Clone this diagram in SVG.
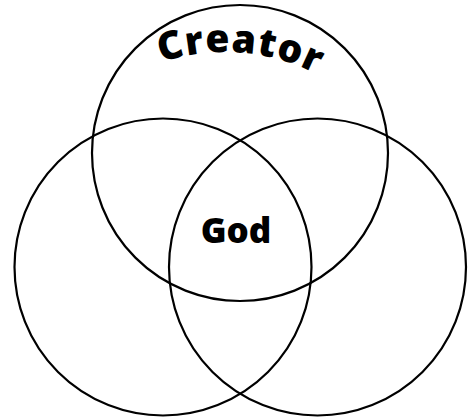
<svg xmlns="http://www.w3.org/2000/svg" width="471" height="419" viewBox="0 0 471 419">
<style>
.c{fill:none;stroke:#000;stroke-width:2.2}
.t{font-family:"Open Sans","Noto Sans",sans-serif;font-weight:800;fill:#000}
</style>
<defs>
<path id="arc" d="M 45 164.8 A 200 200 0 0 1 405 164.8"/>
</defs>
<rect width="471" height="419" fill="#fff"/>
<g id="top"><circle class="c" cx="240" cy="153" r="148"/></g>
<g id="left"><circle class="c" cx="163" cy="267" r="148.5"/></g>
<g id="right"><circle class="c" cx="317.5" cy="267" r="148.5"/></g>
<g id="creator"><text class="t" font-size="39" letter-spacing="1"><textPath href="#arc" startOffset="53.4%" text-anchor="middle">Creator</textPath></text></g>
<g id="god"><text class="t" x="236" y="243" font-size="35" text-anchor="middle">God</text></g>
</svg>
